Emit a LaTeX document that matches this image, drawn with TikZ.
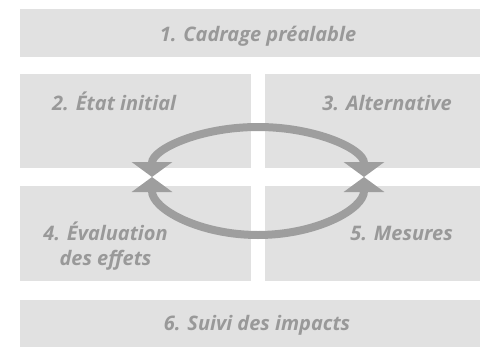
\documentclass[tikz,border=0pt]{standalone}
\usepackage{fontspec}
\setmainfont{Open Sans}
\usetikzlibrary{arrows.meta,positioning}
\definecolor{boxgray}{RGB}{225,225,225}
\definecolor{txtgray}{RGB}{153,153,153}
\definecolor{arrgray}{RGB}{158,158,158}
\begin{document}
\begin{tikzpicture}[x=1pt,y=-1pt,
    box/.style={fill=boxgray,inner sep=0pt,anchor=north west,minimum width=231pt},
    steplabel/.style={text=txtgray,font=\fontsize{20}{25}\selectfont\bfseries\itshape,inner sep=0pt},
    loopline/.style={line width=8pt,draw=arrgray,{Triangle[width=40pt,length=15pt]}-{Triangle[width=40pt,length=15pt]}}]
    \useasboundingbox (0,0) rectangle (480,346);
    \clip (0,0) rectangle (480,346);
    % boxes
    \node[box,minimum width=476pt,minimum height=48pt] (cadrage) at (20,9) {};
    \node[box,minimum height=94pt] (etat) at (20,74) {};
    \node[box,minimum height=94pt] (altern) at (265,74) {};
    \node[box,minimum height=95pt] (eval) at (20,186) {};
    \node[box,minimum height=95pt] (mesures) at (265,186) {};
    \node[box,minimum width=476pt,minimum height=48pt] (suivi) at (20,300) {};
    % labels
    \node[steplabel,anchor=base] (t1) at (258,41.5) {1. Cadrage préalable};
    \node[steplabel,anchor=base west] (t2) at (52,110) {2. État initial};
    \node[steplabel,anchor=base east] (t3) at (452,110) {3. Alternative};
    \node[steplabel,anchor=base] (t4a) at (105.5,240) {4. Évaluation};
    \node[steplabel,anchor=base] (t4b) at (105.5,265) {des effets};
    \node[steplabel,anchor=base east] (t5) at (453,240) {5. Mesures};
    \node[steplabel,anchor=base] (t6) at (257,330) {6. Suivi des impacts};
    % loop
    \coordinate (lt) at (152,177);
    \coordinate (rt) at (364,177);
    \draw[loopline] (lt) arc[start angle=180,end angle=0,x radius=106pt,y radius=50pt];
    \draw[loopline] (lt) arc[start angle=180,end angle=360,x radius=106pt,y radius=58pt];
\end{tikzpicture}
\end{document}
